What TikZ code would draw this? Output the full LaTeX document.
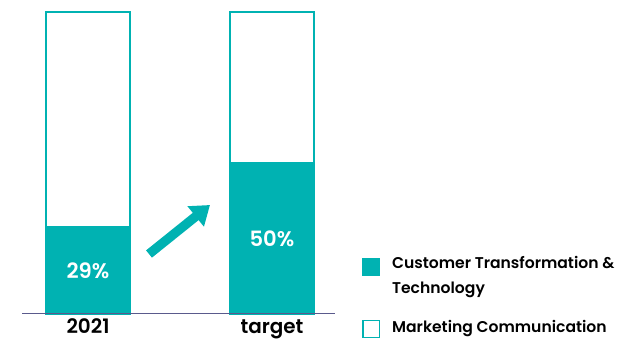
\documentclass[tikz,border=0pt]{standalone}
\usepackage{fontspec}
\setmainfont{Poppins}[BoldFont={Poppins SemiBold}]
\usetikzlibrary{arrows.meta}
\definecolor{teal}{RGB}{0,178,178}
\definecolor{axisblue}{RGB}{90,90,140}

\begin{document}
\begin{tikzpicture}[x=0.03cm,y=-0.03cm,
  barframe/.style={draw=teal,line width=0.06cm},
  barfill/.style={fill=teal},
  pct/.style={text=white,font=\fontsize{18}{20}\selectfont\bfseries},
  year/.style={anchor=base,inner sep=0pt,text=black,font=\fontsize{17}{20}\selectfont\bfseries},
  legtext/.style={anchor=west,font=\fontsize{13.3}{21}\selectfont\bfseries,align=left}]
\useasboundingbox (0,0) rectangle (634,342);
% bars
\draw[barframe] (46,12) rectangle (130,314);
\fill[barfill] (45,226) rectangle (131,314);
\draw[barframe] (230,12) rectangle (314,314);
\fill[barfill] (229,162) rectangle (315,314);
% baseline
\draw[axisblue,line width=0.03cm] (22,314) -- (335,314);
% labels
\node[pct] (pa) at (88,271) {29\%};
\node[pct] (pb) at (272,239) {50\%};
\node[year] (ya) at (88,334) {2021};
\node[year] (yb) at (272,334) {target};
% arrow
\coordinate (arrowstart) at (149,254);
\coordinate (arrowend) at (210,205);
\draw[teal,line width=0.28cm,-{Triangle[length=0.55cm,width=0.75cm]}] (arrowstart) -- (arrowend);
% legend
\node[barfill,minimum size=0.54cm,inner sep=0pt] (kfull) at (371,267) {};
\node[legtext] (lfull) at (388,277) {Customer Transformation \&\\Technology};
\node[draw=teal,line width=0.05cm,minimum size=0.5cm,inner sep=0pt] (kempty) at (371,329) {};
\node[legtext] (lempty) at (388,329) {Marketing Communication};
\end{tikzpicture}
\end{document}
